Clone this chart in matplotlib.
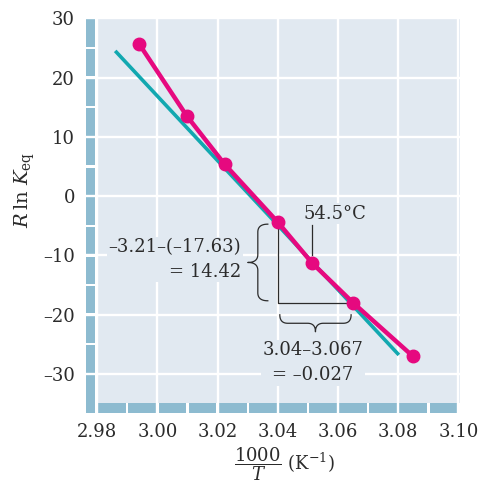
import numpy as np
import matplotlib
matplotlib.use('Agg')
import matplotlib.pyplot as plt
from matplotlib.patches import Rectangle

# data
inv_t = [2.9939, 3.0098, 3.0223, 3.040, 3.0514, 3.065, 3.0848]
r_ln_k = [25.7, 13.5, 5.4, -4.4, -11.3, -18.0, -27.0]
fit_x = [2.986, 3.0802]
fit_y = [24.5, -26.8]

x_ticks = [2.98, 3.00, 3.02, 3.04, 3.06, 3.08, 3.10]
y_ticks = [30, 20, 10, 0, -10, -20, -30]
y_labels = ['30', '20', '10', '0', '–10', '–20', '–30']

dy_text = '–3.21–(–17.63)\n= 14.42'
dx_text = '3.04–3.067\n= –0.027'
temp_text = '54.5°C'

BG = '#e1e9f1'
STRIP = '#8dbbd0'
MAGENTA = '#e6097f'
TEAL = '#12a8b0'
INK = '#2b2b2b'

plt.rcParams['font.family'] = 'DejaVu Serif'
plt.rcParams['mathtext.fontset'] = 'dejavuserif'

fig = plt.figure(figsize=(4.79, 4.82), dpi=100)
ax = fig.add_axes([86/479, 1 - 413.3/482, 374/479, 395.6/482])
xmin, xmax = 2.9763, 3.1005
ymin, ymax = -36.65, 30.1
ax.set_xlim(xmin, xmax)
ax.set_ylim(ymin, ymax)
for s in ax.spines.values():
    s.set_visible(False)

# panel background and the striped rulers on the left and bottom
strip_top = -34.87
ax.add_patch(Rectangle((2.98, strip_top), xmax - 2.98, ymax - strip_top, color=BG, zorder=0.1, lw=0))
xe = np.round(np.arange(2.98, 3.1001, 0.01), 3)
for a, b in zip(xe[:-1], xe[1:]):
    ax.add_patch(Rectangle((a + 0.0004, ymin), b - a - 0.0008, strip_top - ymin, color=STRIP, zorder=0.1, lw=0))
ye = [30, 25, 20, 15, 10, 5, 0, -5, -10, -15, -20, -25, -30, ymin]
for a, b in zip(ye[:-1], ye[1:]):
    top = a - 0.2 if a != 30 else ymax
    bot = b + 0.2 if b != ymin else ymin
    ax.add_patch(Rectangle((xmin, bot), 2.98 - xmin - 0.0008, top - bot, color=STRIP, zorder=0.1, lw=0))

ax.set_xticks(x_ticks)
ax.set_xticklabels(['%.2f' % v for v in x_ticks])
ax.set_yticks(y_ticks)
ax.set_yticklabels(y_labels)
ax.tick_params(length=0, labelsize=13, labelcolor=INK)
ax.tick_params(axis='x', pad=7)
ax.tick_params(axis='y', pad=8)
ax.set_axisbelow(True)
ax.grid(color='white', lw=1.7)

ax.plot(fit_x, fit_y, color=TEAL, lw=2.6, solid_capstyle='butt', zorder=2)
ax.plot(inv_t, r_ln_k, color=MAGENTA, lw=3.2, marker='o', ms=9, zorder=3)

# slope triangle
x0, y0 = inv_t[3], r_ln_k[3]
x1, y1 = inv_t[5], r_ln_k[5]
ax.plot([x0, x0, x1], [y0, y1, y1], color=INK, lw=0.9, zorder=2.5)


def brace(p0, p1, gap, depth, r=8, shrink=2):
    a = ax.transData.transform(p0)
    b = ax.transData.transform(p1)
    L = np.hypot(*(b - a))
    u = (b - a) / L
    n = -np.array([-u[1], u[0]])
    t = np.linspace(0, 1, 25)[:, None]
    h = depth / 2

    def q(p, c, e):
        return (1 - t)**2 * np.array(p) + 2 * (1 - t) * t * np.array(c) + t**2 * np.array(e)
    s0, s1, m = shrink, L - shrink, L / 2
    pts = np.vstack([q((s0, 0), (s0, h), (s0 + r, h)),
                     q((m - r, h), (m, h), (m, depth)),
                     q((m, depth), (m, h), (m + r, h)),
                     q((s1 - r, h), (s1, h), (s1, 0))])
    disp = a + gap * n + pts[:, :1] * u + pts[:, 1:] * n
    d = ax.transData.inverted().transform(disp)
    ax.plot(d[:, 0], d[:, 1], color=INK, lw=0.9, zorder=2.5)


brace((x0, y0), (x0, y1), gap=10, depth=20)
brace((x0, y1), (x1, y1), gap=12, depth=17)

ax.text(3.0278, -10.7, dy_text, ha='right', va='center', ma='right', fontsize=13, color=INK,
        linespacing=1.5, zorder=1.5, bbox=dict(facecolor=BG, edgecolor='none', pad=1))
ax.text(3.0517, -28.1, dx_text, ha='center', va='center', ma='center', fontsize=13, color=INK,
        linespacing=1.5, zorder=1.5, bbox=dict(facecolor=BG, edgecolor='none', pad=1))

# temperature marker
ax.plot([inv_t[4], inv_t[4]], [r_ln_k[4] + 1.4, r_ln_k[4] + 6.4], color=INK, lw=0.9, zorder=2.5)
ax.text(3.059, -3.0, temp_text, ha='center', va='center', fontsize=13, color=INK,
        zorder=1.5, bbox=dict(facecolor=BG, edgecolor='none', pad=1))

ax.set_ylabel(r'$R\,\ln\,K_{\mathrm{eq}}$', fontsize=14, color=INK)
ax.yaxis.set_label_coords(-0.13, 0.565)
ax.set_xlabel(r'$\dfrac{1000}{T}$ (K$^{-1}$)', fontsize=13, color=INK)
ax.xaxis.set_label_coords(0.53, -0.08)

plt.savefig('out.png', dpi=100)
